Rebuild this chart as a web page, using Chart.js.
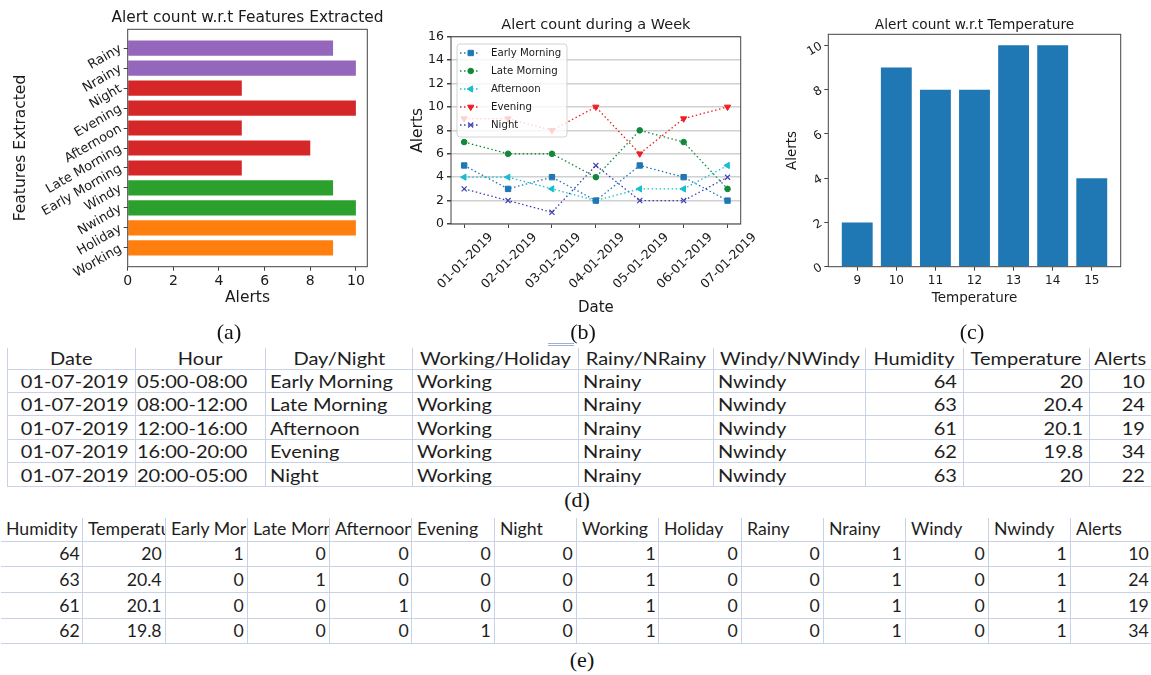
<!DOCTYPE html>
<html>
<head>
<meta charset="utf-8">
<script src="https://cdn.jsdelivr.net/npm/chart.js@4.4.1/dist/chart.umd.min.js"></script>
<style>
  body { margin: 0; background: #fff; width: 1151px; height: 675px; position: relative; overflow: hidden; }
  canvas { position: absolute; top: 0; }
  #chartA { left: 0; }
  #chartB { left: 400px; }
  #chartC { left: 780px; }
  .cap { position: absolute; font-family: "Liberation Serif"; font-size: 22px; color: #111; transform: translate(-50%, -50%); white-space: nowrap; }
  .sheet { position: absolute; display: grid; font-family: Lato; color: #1e1e1e; }
  .cell { box-sizing: border-box; border-bottom: 1px solid #c9d2e4; display: flex; align-items: flex-end; overflow: hidden; white-space: nowrap; line-height: 20px; }
  #tableD .cell { border-left: 1px solid #c9d2e4; font-size: 16.3px; }
  #tableE .cell { border-right: 1px solid #c9d2e4; font-size: 17px; padding-bottom: 2px; }
  #tableD .wide { display: inline-block; transform: scaleX(1.23); }
  #tableE .wide { display: inline-block; transform: scaleX(1.04); }
  #dbl { position: absolute; left: 548px; top: 343px; width: 26px; height: 1px; border-top: 1px solid #9db0d6; border-bottom: 1px solid #9db0d6; }
</style>
</head>
<body>
<canvas id="chartA" width="395" height="320"></canvas>
<canvas id="chartB" width="380" height="320"></canvas>
<canvas id="chartC" width="371" height="320"></canvas>
<div id="tableD" class="sheet"></div>
<div id="tableE" class="sheet"></div>
<div id="dbl"></div>
<div class="cap" style="left:229px; top:332px">(a)</div>
<div class="cap" style="left:583px; top:332px">(b)</div>
<div class="cap" style="left:972px; top:332px">(c)</div>
<div class="cap" style="left:577px; top:500px">(d)</div>
<div class="cap" style="left:582px; top:660px">(e)</div>
<script>
// (a) alert count per feature, bottom to top
const featureNames = ["Working", "Holiday", "Nwindy", "Windy", "Early Morning", "Late Morning", "Afternoon", "Evening", "Night", "Nrainy", "Rainy"];
const featureAlerts = [9, 10, 10, 9, 5, 8, 5, 10, 5, 10, 9];
const featureColors = ["#ff7f0e", "#ff7f0e", "#2ca02c", "#2ca02c", "#d62728", "#d62728", "#d62728", "#d62728", "#d62728", "#9467bd", "#9467bd"];

// (b) alerts during a week
const weekDates = ["01-01-2019", "02-01-2019", "03-01-2019", "04-01-2019", "05-01-2019", "06-01-2019", "07-01-2019"];
const earlyMorning = [5, 3, 4, 2, 5, 4, 2];
const lateMorning = [7, 6, 6, 4, 8, 7, 3];
const afternoon = [4, 4, 3, 2, 3, 3, 5];
const evening = [9, 9, 8, 10, 6, 9, 10];
const night = [3, 2, 1, 5, 2, 2, 4];

// (c) alerts per temperature
const temperatures = ["9", "10", "11", "12", "13", "14", "15"];
const tempAlerts = [2, 9, 8, 8, 10, 10, 4];

// (d) raw sheet
const dHeaders = ["Date", "Hour", "Day/Night", "Working/Holiday", "Rainy/NRainy", "Windy/NWindy", "Humidity", "Temperature", "Alerts"];
const dDates = ["01-07-2019", "01-07-2019", "01-07-2019", "01-07-2019", "01-07-2019"];
const dHours = ["05:00-08:00", "08:00-12:00", "12:00-16:00", "16:00-20:00", "20:00-05:00"];
const dPeriods = ["Early Morning", "Late Morning", "Afternoon", "Evening", "Night"];
const dDayType = ["Working", "Working", "Working", "Working", "Working"];
const dRain = ["Nrainy", "Nrainy", "Nrainy", "Nrainy", "Nrainy"];
const dWind = ["Nwindy", "Nwindy", "Nwindy", "Nwindy", "Nwindy"];
const dHumidity = [64, 63, 61, 62, 63];
const dTemperature = [20, 20.4, 20.1, 19.8, 20];
const dAlerts = [10, 24, 19, 34, 22];

// (e) encoded sheet
const eHeaders = ["Humidity", "Temperature", "Early Morning", "Late Morning", "Afternoon", "Evening", "Night", "Working", "Holiday", "Rainy", "Nrainy", "Windy", "Nwindy", "Alerts"];
const eRows = [
  [64, 20, 1, 0, 0, 0, 0, 1, 0, 0, 1, 0, 1, 10],
  [63, 20.4, 0, 1, 0, 0, 0, 1, 0, 0, 1, 0, 1, 24],
  [61, 20.1, 0, 0, 1, 0, 0, 1, 0, 0, 1, 0, 1, 19],
  [62, 19.8, 0, 0, 0, 1, 0, 1, 0, 0, 1, 0, 1, 34],
];

Chart.defaults.font.family = "'DejaVu Sans'";
Chart.defaults.color = "#1a1a1a";

const frame = {
  id: "frame",
  afterDatasetsDraw(chart) {
    const { ctx, chartArea: a } = chart;
    ctx.save();
    ctx.strokeStyle = "#444";
    ctx.lineWidth = 1;
    ctx.strokeRect(a.left, a.top, a.right - a.left, a.bottom - a.top);
    ctx.restore();
  },
};

const panelTitle = {
  id: "panelTitle",
  afterDraw(chart, args, opts) {
    const { ctx, chartArea: a } = chart;
    ctx.save();
    ctx.font = opts.size + "px 'DejaVu Sans'";
    ctx.fillStyle = "#1a1a1a";
    ctx.textAlign = "center";
    ctx.textBaseline = "middle";
    ctx.fillText(opts.text, (a.left + a.right) / 2, opts.y);
    ctx.restore();
  },
};

// legend box inside the plot, drawn over the lines like matplotlib's
const boxLegend = {
  id: "boxLegend",
  afterDatasetsDraw(chart) {
    const { ctx, chartArea: a } = chart;
    const sets = chart.data.datasets;
    const x0 = a.left + 6, y0 = a.top + 7.3;
    ctx.save();
    ctx.fillStyle = "rgba(255,255,255,0.8)";
    ctx.strokeStyle = "rgba(200,200,200,0.8)";
    ctx.lineWidth = 1;
    ctx.beginPath();
    ctx.roundRect(x0, y0, 110, 93, 3);
    ctx.fill();
    ctx.stroke();
    sets.forEach((ds, i) => {
      const y = a.top + 16.3 + i * 18;
      ctx.strokeStyle = ds.borderColor;
      ctx.fillStyle = ds.borderColor;
      ctx.lineWidth = 1.3;
      ctx.setLineDash([1.5, 2.5]);
      ctx.beginPath();
      ctx.moveTo(x0 + 3, y);
      ctx.lineTo(x0 + 21, y);
      ctx.stroke();
      ctx.setLineDash([]);
      ctx.lineWidth = ds.pointBorderWidth;
      Chart.helpers.drawPoint(ctx, {
        pointStyle: ds.pointStyle,
        radius: ds.pointRadius,
        rotation: ds.pointRotation || 0,
        borderWidth: ds.pointBorderWidth,
      }, x0 + 13.7, y);
      ctx.fillStyle = "#1a1a1a";
      ctx.font = "10.2px 'DejaVu Sans'";
      ctx.textBaseline = "middle";
      ctx.fillText(ds.label, x0 + 34, y);
    });
    ctx.restore();
  },
};

// ---------- (a)
new Chart(document.getElementById("chartA"), {
  type: "bar",
  data: {
    datasets: [{
      data: featureAlerts.map((v, i) => ({ x: v, y: i })),
      backgroundColor: featureColors,
      barPercentage: 0.76,
      categoryPercentage: 1,
    }],
  },
  options: {
    indexAxis: "y",
    responsive: false,
    animation: false,
    layout: { padding: { left: 0, top: 29.3, right: 27.7, bottom: 0 } },
    plugins: {
      legend: { display: false },
      tooltip: { enabled: false },
      panelTitle: { text: "Alert count w.r.t Features Extracted", size: 15.4, y: 18 },
    },
    scales: {
      x: {
        type: "linear", min: 0, max: 10.5,
        ticks: { stepSize: 2, includeBounds: false, font: { size: 14 }, padding: 2 },
        grid: { drawOnChartArea: false, tickLength: 4, tickColor: "#444" },
        border: { display: false },
        title: { display: true, text: "Alerts", font: { size: 15.5 }, padding: { top: 0, bottom: 12.7 } },
        afterFit(s) { s.height = 53.3; },
      },
      y: {
        type: "linear", min: -0.94, max: 10.94, offset: false,
        afterBuildTicks(s) { s.ticks = featureNames.map((n, i) => ({ value: i })); },
        ticks: { callback: (v) => featureNames[v], minRotation: 30, maxRotation: 30, autoSkip: false, font: { size: 13 }, padding: 3 },
        grid: { offset: false, drawOnChartArea: false, tickLength: 4, tickColor: "#444" },
        border: { display: false },
        title: { display: true, text: "Features Extracted", font: { size: 15.5 }, padding: { top: 11.7, bottom: 0 } },
        afterFit(s) { s.width = 127.7; },
      },
    },
  },
  plugins: [frame, panelTitle],
});

// ---------- (b)
function weekLine(label, values, color, style, radius, rotation, bw) {
  return {
    label: label,
    data: values.map((v, i) => ({ x: i, y: v })),
    borderColor: color,
    backgroundColor: color,
    borderWidth: 1.3,
    borderDash: [1.5, 2.5],
    pointStyle: style,
    pointRadius: radius,
    pointRotation: rotation,
    pointBorderWidth: bw,
    pointBackgroundColor: color,
    pointBorderColor: color,
  };
}

new Chart(document.getElementById("chartB"), {
  type: "line",
  data: {
    datasets: [
      weekLine("Early Morning", earlyMorning, "#1f77b4", "rect", 3.8, 0, 1),
      weekLine("Late Morning", lateMorning, "#11883a", "circle", 2.8, 0, 1),
      weekLine("Afternoon", afternoon, "#17becf", "triangle", 3.6, -90, 1),
      weekLine("Evening", evening, "#f01c24", "triangle", 3.6, 180, 1),
      weekLine("Night", night, "#3f3fb0", "crossRot", 3.6, 0, 1.2),
    ],
  },
  options: {
    responsive: false,
    animation: false,
    layout: { padding: { left: 0, top: 36.7, right: 39.3, bottom: 0 } },
    plugins: {
      legend: { display: false },
      tooltip: { enabled: false },
      panelTitle: { text: "Alert count during a Week", size: 14.5, y: 25 },
    },
    scales: {
      x: {
        type: "linear", min: -0.3, max: 6.3, offset: false,
        afterBuildTicks(s) { s.ticks = weekDates.map((d, i) => ({ value: i })); },
        ticks: { callback: (v) => weekDates[v], minRotation: 45, maxRotation: 45, autoSkip: false, labelOffset: 27, font: { size: 12.5 }, padding: 2 },
        grid: { offset: false, drawOnChartArea: false, tickLength: 4, tickColor: "#444" },
        border: { display: false },
        title: { display: true, text: "Date", font: { size: 15 }, padding: { top: 0, bottom: 3 } },
        afterFit(s) { s.height = 96; },
      },
      y: {
        min: 0, max: 16,
        ticks: { stepSize: 2, font: { size: 12.5 }, padding: 3 },
        grid: { color: "#d0d0d0", lineWidth: 1.5, tickLength: 4, tickColor: "#444" },
        border: { display: false },
        title: { display: true, text: "Alerts", font: { size: 15.5 }, padding: { top: 9, bottom: 0 } },
        afterFit(s) { s.width = 51; },
      },
    },
  },
  plugins: [frame, boxLegend, panelTitle],
});

// ---------- (c)
new Chart(document.getElementById("chartC"), {
  type: "bar",
  data: {
    datasets: [{
      data: tempAlerts.map((v, i) => ({ x: i, y: v })),
      backgroundColor: "#1f77b4",
      barPercentage: 0.79,
      categoryPercentage: 1,
    }],
  },
  options: {
    responsive: false,
    animation: false,
    layout: { padding: { left: 0, top: 34.3, right: 30.3, bottom: 0 } },
    plugins: {
      legend: { display: false },
      tooltip: { enabled: false },
      panelTitle: { text: "Alert count w.r.t Temperature", size: 13.7, y: 25 },
    },
    scales: {
      x: {
        type: "linear", min: -0.74, max: 6.74, offset: false,
        afterBuildTicks(s) { s.ticks = temperatures.map((t, i) => ({ value: i })); },
        ticks: { callback: (v) => temperatures[v], minRotation: 0, maxRotation: 0, autoSkip: false, font: { size: 12 }, padding: 3 },
        grid: { offset: false, drawOnChartArea: false, tickLength: 4, tickColor: "#444" },
        border: { display: false },
        title: { display: true, text: "Temperature", font: { size: 13.5 }, padding: { top: 0, bottom: 13.9 } },
        afterFit(s) { s.height = 53.3; },
      },
      y: {
        min: 0, max: 10.5,
        ticks: { stepSize: 2, includeBounds: false, minRotation: 30, maxRotation: 30, font: { size: 12 }, padding: 3 },
        grid: { drawOnChartArea: false, tickLength: 4, tickColor: "#444" },
        border: { display: false },
        title: { display: true, text: "Alerts", font: { size: 13.5 }, padding: { top: 3.9, bottom: 0 } },
        afterFit(s) { s.width = 48.3; },
      },
    },
  },
  plugins: [frame, panelTitle],
});

// ---------- (d) sheet
const dColumns = [dDates, dHours, dPeriods, dDayType, dRain, dWind, dHumidity, dTemperature, dAlerts];
const dAlign = ["right", "left", "left", "left", "left", "left", "right", "right", "right"];
const dWidths = [127.7, 130, 147.5, 165.5, 135, 152, 97.7, 126.6, 61.7];

function addCell(parent, text, align, padL, padR) {
  const c = document.createElement("div");
  c.className = "cell";
  c.style.justifyContent = align === "left" ? "flex-start" : align === "right" ? "flex-end" : "center";
  c.style.paddingLeft = padL + "px";
  c.style.paddingRight = padR + "px";
  const s = document.createElement("span");
  s.textContent = text;
  s.className = "wide";
  s.style.transformOrigin = align === "left" ? "left" : align === "right" ? "right" : "center";
  c.appendChild(s);
  parent.appendChild(c);
}

const tD = document.getElementById("tableD");
tD.style.left = "7.3px";
tD.style.top = "348px";
tD.style.gridTemplateColumns = dWidths.map((w) => w + "px").join(" ");
tD.style.gridTemplateRows = "21.5px repeat(5, 23.48px)";
dHeaders.forEach((h) => addCell(tD, h, "center", 0, 0));
for (let r = 0; r < dDates.length; r++) {
  dColumns.forEach((col, k) => {
    const padL = k === 1 ? 1 : 4;
    addCell(tD, String(col[r]), dAlign[k], padL, 6);
  });
}

// ---------- (e) sheet
const tE = document.getElementById("tableE");
tE.style.left = "1px";
tE.style.top = "518.3px";
tE.style.gridTemplateColumns = "repeat(14, 82.3px)";
tE.style.gridTemplateRows = "23.4px repeat(4, 25.65px)";
eHeaders.forEach((h) => addCell(tE, h, "left", 5, 0));
eRows.forEach((row) => {
  row.forEach((v) => addCell(tE, String(v), "right", 0, 3));
});
</script>
</body>
</html>
